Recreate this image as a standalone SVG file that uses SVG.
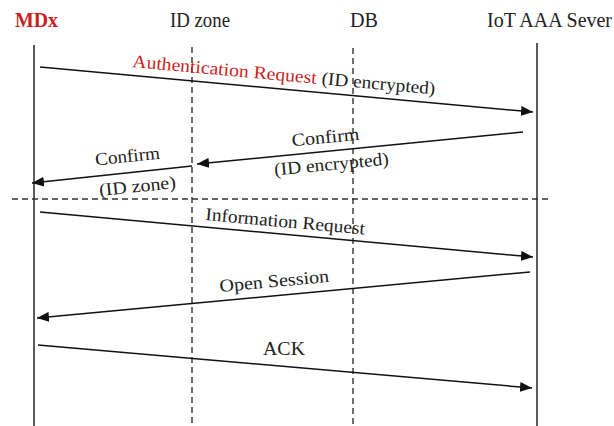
<svg xmlns="http://www.w3.org/2000/svg" width="614" height="426" viewBox="0 0 614 426">
<style>
text{fill:#222}
.hd{font-size:20px}
.lb{font-size:18px}
.red{fill:#cc1f1f}
.solid{stroke:#333;stroke-width:1.6;fill:none}
.dash{stroke:#333;stroke-width:1.4;stroke-dasharray:6,4;fill:none}
.msg{stroke:#111;stroke-width:1.5;fill:none;marker-end:url(#ah)}
</style>
<defs>
<marker id="ah" viewBox="0 0 12 10" refX="12" refY="5" markerWidth="12" markerHeight="10" markerUnits="userSpaceOnUse" orient="auto">
<path d="M0,0 L12,5 L0,10 Z" fill="#111"/>
</marker>
</defs>
<rect width="614" height="426" fill="#fff"/>
<g font-family="Liberation Serif, DejaVu Serif, serif">
<g id="mdx">
<text class="hd red" x="15" y="27" font-weight="bold" textLength="43" lengthAdjust="spacingAndGlyphs">MDx</text>
<line class="solid" x1="34" y1="45" x2="34" y2="426"/>
</g>
<g id="idzone">
<text class="hd" x="170" y="27" textLength="60" lengthAdjust="spacingAndGlyphs">ID zone</text>
<line class="dash" x1="192" y1="47" x2="192" y2="426"/>
</g>
<g id="db">
<text class="hd" x="350" y="27" textLength="28" lengthAdjust="spacingAndGlyphs">DB</text>
<line class="dash" x1="353" y1="48" x2="353" y2="426"/>
</g>
<g id="iot">
<text class="hd" x="487" y="27" textLength="125" lengthAdjust="spacingAndGlyphs">IoT AAA Sever</text>
<line class="solid" x1="537" y1="43" x2="537" y2="426"/>
</g>
<g id="connectors">
<line class="msg" x1="40" y1="67" x2="533" y2="112"/>
<line class="msg" x1="523" y1="132" x2="197" y2="164"/>
<line class="msg" x1="192" y1="166" x2="32" y2="183"/>
<line class="dash" x1="12" y1="199" x2="548" y2="199"/>
<line class="msg" x1="40" y1="212" x2="533" y2="257"/>
<line class="msg" x1="530" y1="272" x2="37" y2="318"/>
<line class="msg" x1="38" y1="345" x2="532" y2="388"/>
</g>
<g id="labels">
<g transform="rotate(5.2 132 67)">
<text class="lb red" x="132" y="67" textLength="185" lengthAdjust="spacingAndGlyphs">Authentication Request</text>
<text class="lb" x="322" y="67" textLength="114" lengthAdjust="spacingAndGlyphs">(ID encrypted)</text>
</g>
<text class="lb" x="326" y="143" text-anchor="middle" textLength="68" lengthAdjust="spacingAndGlyphs" transform="rotate(-5.4 326 143)">Confirm</text>
<text class="lb" x="332" y="170" text-anchor="middle" textLength="115" lengthAdjust="spacingAndGlyphs" transform="rotate(-5.4 332 170)">(ID encrypted)</text>
<text class="lb" x="128" y="162" text-anchor="middle" textLength="65" lengthAdjust="spacingAndGlyphs" transform="rotate(-6 128 162)">Confirm</text>
<text class="lb" x="138" y="192" text-anchor="middle" textLength="77" lengthAdjust="spacingAndGlyphs" transform="rotate(-6 138 192)">(ID zone)</text>
<text class="lb" x="205" y="220" textLength="160" lengthAdjust="spacingAndGlyphs" transform="rotate(5.2 205 220)">Information Request</text>
<text class="lb" x="220" y="292" textLength="110" lengthAdjust="spacingAndGlyphs" transform="rotate(-5.3 220 292)">Open Session</text>
<text class="lb" x="284" y="355" text-anchor="middle" textLength="42" lengthAdjust="spacingAndGlyphs">ACK</text>
</g>
</g>
</svg>
